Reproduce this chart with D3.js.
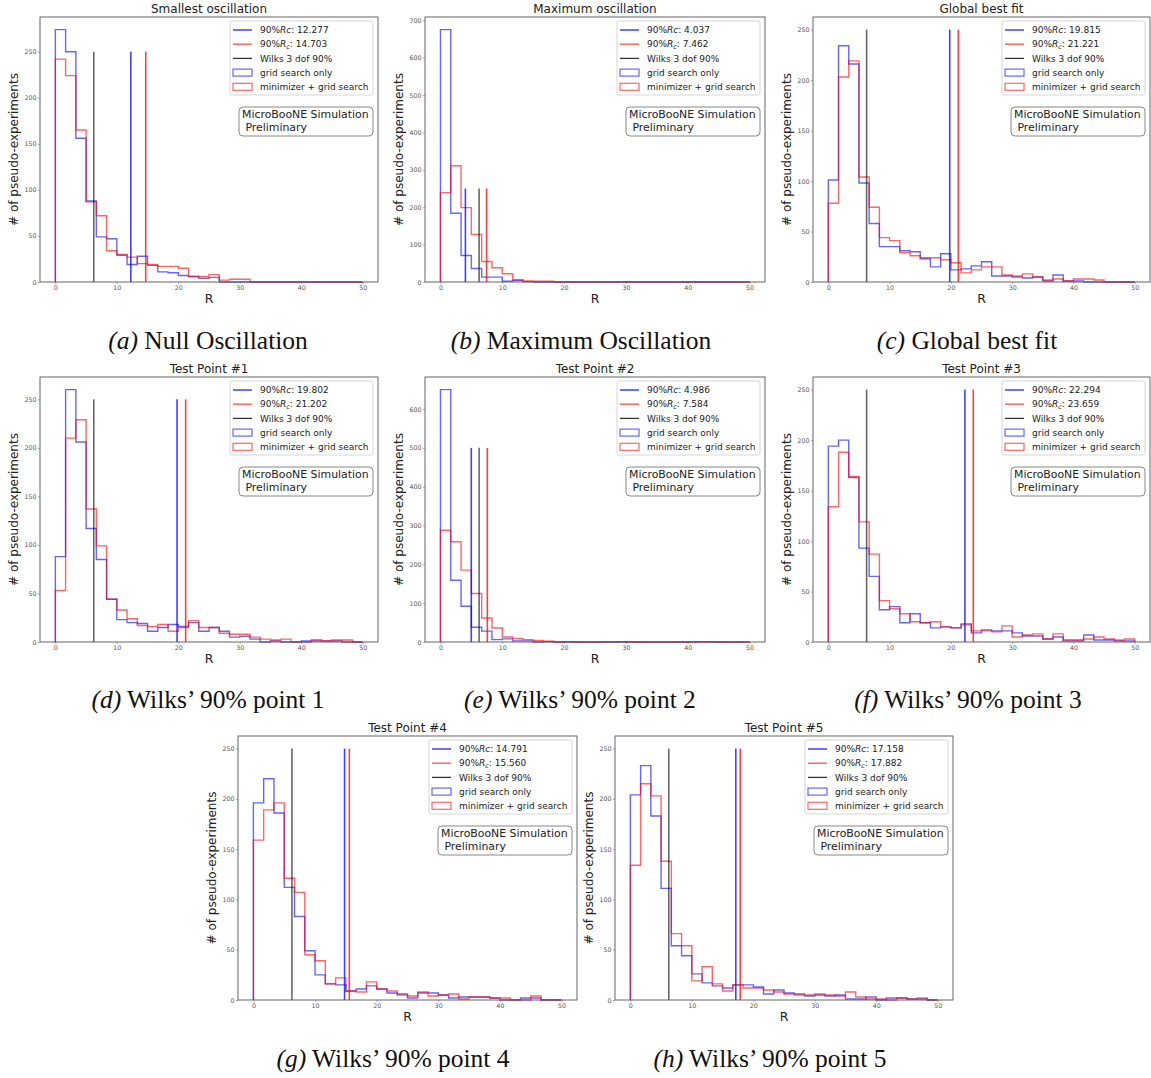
<!DOCTYPE html>
<html>
<head>
<meta charset="utf-8">
<script src="https://cdn.jsdelivr.net/npm/d3@7"></script>
<style>
  html, body { margin: 0; padding: 0; background: #fff; }
  svg { display: block; }
</style>
</head>
<body>
<svg id="chart" width="1151" height="1078"></svg>
<script>
// ---------------- DATA ----------------
const binMin = 0, binMax = 50, binCount = 30;
const xTicks = [0, 10, 20, 30, 40, 50];
const wilks = 6.251;

const titles = ["Smallest oscillation", "Maximum oscillation", "Global best fit",
  "Test Point #1", "Test Point #2", "Test Point #3", "Test Point #4", "Test Point #5"];
const captionTags = ["(a)", "(b)", "(c)", "(d)", "(e)", "(f)", "(g)", "(h)"];
const captionTexts = ["Null Oscillation", "Maximum Oscillation", "Global best fit",
  "Wilks’ 90% point 1", "Wilks’ 90% point 2", "Wilks’ 90% point 3",
  "Wilks’ 90% point 4", "Wilks’ 90% point 5"];

const rcGrid = [12.277, 4.037, 19.815, 19.802, 4.986, 22.294, 14.791, 17.158];
const rcMin  = [14.703, 7.462, 21.221, 21.202, 7.584, 23.659, 15.560, 17.882];
const vlineHeight = [250, 250, 250, 250, 500, 250, 250, 250];
const yTickStep = [50, 100, 50, 50, 100, 50, 50, 50];

// histogram counts, 30 bins of width 5/3 from 0 to 50
const nullGrid = [274, 250, 156, 88, 49, 47, 29, 19, 28, 18, 11, 10, 7, 6, 4, 5, 0, 0, 0, 0, 0, 0, 0, 0, 0, 0, 0, 0, 0, 0];
const nullMin  = [242, 224, 165, 87, 72, 34, 30, 27, 20, 19, 17, 17, 15, 6, 6, 8, 2, 3, 3, 0, 0, 0, 0, 0, 0, 0, 0, 0, 0, 0];
const maxGrid  = [675, 184, 71, 36, 13, 13, 2, 4, 1, 0, 0, 0, 0, 0, 0, 0, 0, 0, 0, 0, 0, 0, 0, 0, 0, 0, 0, 0, 0, 0];
const maxMin   = [239, 311, 199, 127, 55, 38, 22, 6, 3, 2, 2, 0, 0, 0, 0, 0, 0, 0, 0, 0, 0, 0, 0, 0, 0, 0, 0, 0, 0, 0];
const bestGrid = [101, 234, 216, 98, 58, 35, 35, 31, 30, 23, 15, 28, 12, 13, 16, 20, 6, 6, 5, 4, 5, 1, 7, 1, 1, 0, 0, 0, 0, 0];
const bestMin  = [78, 203, 219, 104, 74, 44, 41, 29, 26, 24, 24, 22, 19, 9, 12, 15, 15, 7, 6, 8, 5, 2, 3, 1, 3, 3, 2, 0, 0, 0];
const tp1Grid  = [88, 260, 206, 117, 85, 44, 23, 20, 19, 11, 15, 18, 16, 20, 11, 15, 11, 5, 6, 3, 0, 1, 0, 0, 1, 2, 1, 1, 0, 0];
const tp1Min   = [53, 210, 229, 137, 99, 44, 33, 24, 17, 16, 18, 11, 15, 22, 15, 15, 9, 8, 8, 5, 3, 2, 3, 0, 0, 1, 1, 2, 2, 0];
const tp2Grid  = [650, 159, 92, 38, 28, 6, 8, 3, 3, 0, 1, 0, 0, 0, 0, 0, 0, 0, 0, 0, 0, 0, 0, 0, 0, 1, 0, 0, 0, 0];
const tp2Min   = [288, 258, 185, 125, 62, 36, 13, 9, 6, 4, 2, 0, 1, 0, 0, 0, 1, 1, 0, 0, 0, 0, 0, 0, 0, 0, 1, 0, 0, 0];
const tp3Grid  = [194, 200, 163, 93, 65, 32, 35, 19, 28, 19, 14, 15, 14, 18, 9, 12, 11, 11, 9, 6, 6, 3, 5, 2, 2, 7, 2, 2, 1, 1];
const tp3Min   = [134, 188, 164, 119, 87, 41, 33, 28, 20, 19, 20, 15, 14, 17, 11, 11, 10, 16, 5, 7, 8, 3, 8, 1, 1, 3, 5, 3, 2, 3];
const tp4Grid  = [196, 220, 186, 112, 83, 49, 25, 16, 15, 9, 11, 14, 11, 7, 6, 2, 7, 7, 5, 2, 3, 3, 3, 2, 0, 0, 2, 2, 0, 0];
const tp4Min   = [159, 189, 196, 121, 107, 45, 39, 16, 22, 9, 8, 18, 11, 9, 5, 4, 8, 4, 5, 6, 1, 3, 3, 2, 2, 0, 0, 4, 0, 0];
const tp5Grid  = [204, 233, 183, 111, 54, 44, 26, 17, 14, 12, 15, 15, 13, 6, 10, 7, 6, 4, 5, 4, 5, 1, 1, 3, 0, 2, 2, 1, 1, 0];
const tp5Min   = [134, 215, 203, 138, 66, 54, 19, 33, 16, 9, 15, 12, 12, 10, 8, 6, 5, 5, 6, 5, 4, 8, 3, 1, 1, 0, 2, 1, 2, 0];

const gridSeries = [nullGrid, maxGrid, bestGrid, tp1Grid, tp2Grid, tp3Grid, tp4Grid, tp5Grid];
const minSeries  = [nullMin, maxMin, bestMin, tp1Min, tp2Min, tp3Min, tp4Min, tp5Min];

const legendNames = ["Wilks 3 dof 90%", "grid search only", "minimizer + grid search"];

// ---------------- LAYOUT ----------------
const layout = [
  {l: 40,  r: 378,  t: 17,  b: 282,  cx: 208, cy: 349},
  {l: 425, r: 765,  t: 17,  b: 282,  cx: 581, cy: 349},
  {l: 813, r: 1150, t: 17,  b: 282,  cx: 967, cy: 349},
  {l: 40,  r: 378,  t: 377, b: 642,  cx: 208, cy: 708},
  {l: 425, r: 765,  t: 377, b: 642,  cx: 580, cy: 708},
  {l: 813, r: 1150, t: 377, b: 642,  cx: 968, cy: 708},
  {l: 238, r: 577,  t: 736, b: 1000, cx: 393, cy: 1067},
  {l: 615, r: 953,  t: 736, b: 1000, cx: 770, cy: 1067}
];

const BLUE = "#0000ff", RED = "#ff0000";
const svg = d3.select("#chart");
const edges = d3.range(binCount + 1).map(i => binMin + i * (binMax - binMin) / binCount);

function stepPoints(counts) {
  const pts = [[edges[0], 0]];
  counts.forEach((c, i) => { pts.push([edges[i], c]); pts.push([edges[i + 1], c]); });
  pts.push([edges[binCount], 0]);
  return pts;
}

layout.forEach((L, k) => {
  const g = svg.append("g");
  const grid = gridSeries[k], mn = minSeries[k];
  const ymax = Math.max(d3.max(grid), d3.max(mn), vlineHeight[k]) * 1.05;
  const x = d3.scaleLinear().domain([-2.5, 52.5]).range([L.l, L.r]);
  const y = d3.scaleLinear().domain([0, ymax]).range([L.b, L.t]);

  const line = d3.line().x(d => x(d[0])).y(d => y(d[1]));

  // histograms
  g.append("path").attr("d", line(stepPoints(grid)))
    .attr("fill", "none").attr("stroke", BLUE).attr("stroke-opacity", 0.6)
    .attr("stroke-width", 1.4);
  g.append("path").attr("d", line(stepPoints(mn)))
    .attr("fill", "none").attr("stroke", RED).attr("stroke-opacity", 0.6)
    .attr("stroke-width", 1.4);

  // vertical lines
  const vl = [[rcGrid[k], BLUE, 0.75], [rcMin[k], RED, 0.75], [wilks, "#000", 0.6]];
  vl.forEach(([v, c, o]) => {
    g.append("line").attr("x1", x(v)).attr("x2", x(v))
      .attr("y1", y(0)).attr("y2", y(vlineHeight[k]))
      .attr("stroke", c).attr("stroke-opacity", o).attr("stroke-width", 1.6);
  });

  // axes
  const ax = g.append("g").attr("transform", `translate(0,${L.b})`)
    .call(d3.axisBottom(x).tickValues(xTicks).tickSize(2).tickPadding(2));
  const yt = d3.range(0, ymax, yTickStep[k]);
  const ay = g.append("g").attr("transform", `translate(${L.l},0)`)
    .call(d3.axisLeft(y).tickValues(yt).tickSize(2).tickPadding(1.5).tickFormat(d3.format("d")));
  [ax, ay].forEach(a => {
    a.select(".domain").remove();
    a.selectAll("line").attr("stroke", "#777").attr("stroke-width", 0.6);
    a.selectAll("text").attr("fill", "#555").style("font-family", "DejaVu Sans")
      .style("font-size", "6.3px");
  });

  // frame
  g.append("rect").attr("x", L.l).attr("y", L.t).attr("width", L.r - L.l).attr("height", L.b - L.t)
    .attr("fill", "none").attr("stroke", "#555").attr("stroke-width", 0.9);

  // title and labels
  g.append("text").attr("x", (L.l + L.r) / 2).attr("y", L.t - 4)
    .attr("text-anchor", "middle").style("font-family", "DejaVu Sans").style("font-size", "12px")
    .attr("fill", "#222").text(titles[k]);
  g.append("text").attr("x", (L.l + L.r) / 2).attr("y", L.b + 21)
    .attr("text-anchor", "middle").style("font-family", "DejaVu Sans").style("font-size", "12.5px")
    .attr("fill", "#222").text("R");
  g.append("text").attr("transform", `translate(${L.l - 22},${(L.t + L.b) / 2}) rotate(-90)`)
    .attr("text-anchor", "middle").style("font-family", "DejaVu Sans").style("font-size", "12px")
    .attr("fill", "#222").text("# of pseudo-experiments");

  // legend
  const lx = L.r - 148, ly = L.t + 4;
  const lg = g.append("g").attr("transform", `translate(${lx},${ly})`);
  lg.append("rect").attr("x", 0).attr("y", 0).attr("width", 143).attr("height", 74).attr("rx", 2)
    .attr("fill", "#fff").attr("fill-opacity", 0.8).attr("stroke", "#ccc").attr("stroke-width", 0.8);
  const rowY = i => 9 + i * 14.2;
  const fmt = d3.format(".3f");
  const textStyle = s => s.style("font-family", "DejaVu Sans").style("font-size", "9px").attr("fill", "#222");
  // row 0: blue line
  lg.append("line").attr("x1", 3).attr("x2", 22).attr("y1", rowY(0)).attr("y2", rowY(0))
    .attr("stroke", BLUE).attr("stroke-opacity", 0.75).attr("stroke-width", 1.5);
  const t0 = lg.append("text").attr("x", 30).attr("y", rowY(0) + 3.2).call(textStyle);
  t0.append("tspan").text("90%");
  t0.append("tspan").style("font-style", "italic").text("Rc");
  t0.append("tspan").text(": " + fmt(rcGrid[k]));
  // row 1: red line
  lg.append("line").attr("x1", 3).attr("x2", 22).attr("y1", rowY(1)).attr("y2", rowY(1))
    .attr("stroke", RED).attr("stroke-opacity", 0.6).attr("stroke-width", 1.5);
  const t1 = lg.append("text").attr("x", 30).attr("y", rowY(1) + 3.2).call(textStyle);
  t1.append("tspan").text("90%");
  t1.append("tspan").style("font-style", "italic").text("R");
  t1.append("tspan").style("font-style", "italic").style("font-size", "6.5px").attr("dy", 1.8).text("c");
  t1.append("tspan").attr("dy", -1.8).text(": " + fmt(rcMin[k]));
  // row 2: wilks
  lg.append("line").attr("x1", 3).attr("x2", 22).attr("y1", rowY(2)).attr("y2", rowY(2))
    .attr("stroke", "#000").attr("stroke-opacity", 0.8).attr("stroke-width", 1.3);
  lg.append("text").attr("x", 30).attr("y", rowY(2) + 3.2).call(textStyle).text(legendNames[0]);
  // rows 3-4: patches
  [[BLUE, legendNames[1]], [RED, legendNames[2]]].forEach(([c, n], i) => {
    lg.append("rect").attr("x", 3).attr("y", rowY(3 + i) - 3.5).attr("width", 19).attr("height", 7)
      .attr("fill", "none").attr("stroke", c).attr("stroke-opacity", 0.6).attr("stroke-width", 1.2);
    lg.append("text").attr("x", 30).attr("y", rowY(3 + i) + 3.2).call(textStyle).text(n);
  });

  // MicroBooNE box
  const bx = L.r - 139, by = L.t + 90;
  g.append("rect").attr("x", bx).attr("y", by).attr("width", 134).attr("height", 29).attr("rx", 4)
    .attr("fill", "#fff").attr("stroke", "#888").attr("stroke-width", 1);
  g.append("text").attr("x", bx + 3).attr("y", by + 11).style("font-family", "DejaVu Sans")
    .style("font-size", "10.9px").attr("fill", "#222").text("MicroBooNE Simulation");
  g.append("text").attr("x", bx + 3).attr("y", by + 24).style("font-family", "DejaVu Sans")
    .style("font-size", "10.9px").attr("fill", "#222").style("white-space", "pre").text(" Preliminary");

  // caption
  const cap = svg.append("text").attr("x", L.cx).attr("y", L.cy).attr("text-anchor", "middle")
    .style("font-family", "'Liberation Serif', serif").style("font-size", "25.5px").attr("fill", "#111");
  cap.append("tspan").style("font-style", "italic").text(captionTags[k]);
  cap.append("tspan").text(" " + captionTexts[k]);
});
</script>
</body>
</html>
